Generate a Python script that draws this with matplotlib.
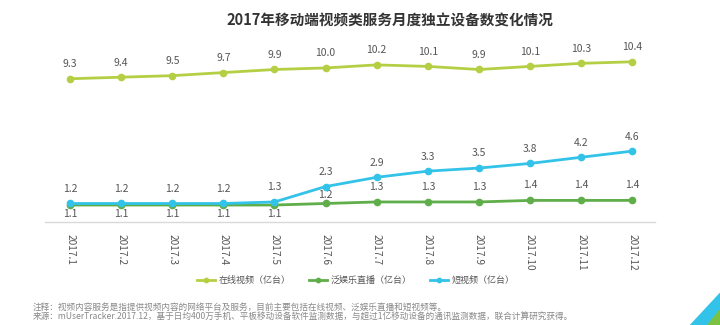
import matplotlib
matplotlib.use("Agg")
import matplotlib.pyplot as plt
from matplotlib.patches import Polygon

plt.rcParams['font.family'] = ['Noto Sans CJK SC', 'DejaVu Sans']

months = ["2017.1", "2017.2", "2017.3", "2017.4", "2017.5", "2017.6",
          "2017.7", "2017.8", "2017.9", "2017.10", "2017.11", "2017.12"]
online_video = [9.3, 9.4, 9.5, 9.7, 9.9, 10.0, 10.2, 10.1, 9.9, 10.1, 10.3, 10.4]
live_stream = [1.1, 1.1, 1.1, 1.1, 1.1, 1.2, 1.3, 1.3, 1.3, 1.4, 1.4, 1.4]
short_video = [1.2, 1.2, 1.2, 1.2, 1.3, 2.3, 2.9, 3.3, 3.5, 3.8, 4.2, 4.6]
series_names = ["在线视频（亿台）", "泛娱乐直播（亿台）", "短视频（亿台）"]
title = "2017年移动端视频类服务月度独立设备数变化情况"
notes = ["注释：视频内容服务是指提供视频内容的网络平台及服务，目前主要包括在线视频、泛娱乐直播和短视频等。",
         "来源：mUserTracker.2017.12，基于日均400万手机、平板移动设备软件监测数据，与超过1亿移动设备的通讯监测数据，联合计算研究获得。"]

c_online = "#b5cf45"
c_live = "#5fae4a"
c_short = "#33c3e8"
txt = "#555555"

fig = plt.figure(figsize=(7.2, 3.25), dpi=100)
ax = fig.add_axes([0.0625, 0.317, 0.8475, 0.545])
x = list(range(len(months)))

ax.plot(x, online_video, color=c_online, lw=2, marker='o', ms=4.5, label=series_names[0], zorder=3)
ax.plot(x, live_stream, color=c_live, lw=2, marker='o', ms=4.5, label=series_names[1], zorder=3)
ax.plot(x, short_video, color=c_short, lw=2, marker='o', ms=4.5, label=series_names[2], zorder=4)

fs = 7.5
for i in x:
    ax.annotate(f"{online_video[i]:.1f}", (i, online_video[i]), xytext=(0, 10.5),
                textcoords='offset points', ha='center', va='center', fontsize=fs, color=txt)
    ax.annotate(f"{short_video[i]:.1f}", (i, short_video[i]), xytext=(0, 10.5),
                textcoords='offset points', ha='center', va='center', fontsize=fs, color=txt)
    gap = short_video[i] - live_stream[i]
    if gap < 0.5:
        off = -6.5
    elif gap < 1.5:
        off = 6
    else:
        off = 11
    ax.annotate(f"{live_stream[i]:.1f}", (i, live_stream[i]), xytext=(0, off),
                textcoords='offset points', ha='center', va='center', fontsize=fs, color=txt)

ax.set_xlim(-0.49, 11.45)
ax.set_ylim(0, 11.5)
ax.set_yticks([])
for s in ['top', 'right', 'left']:
    ax.spines[s].set_visible(False)
ax.spines['bottom'].set_color('#d9d9d9')
ax.spines['bottom'].set_linewidth(1)
ax.set_xticks(x)
ax.set_xticklabels(months, rotation=-90, fontsize=7.3, color=txt, va='top')
ax.tick_params(axis='x', length=0, pad=9)

leg = fig.legend(loc='center', bbox_to_anchor=(0.494, 0.138), ncol=3, frameon=False,
                 fontsize=6.5, handlelength=2.0, columnspacing=2.0, handletextpad=0.4,
                 markerscale=0.7)
for t in leg.get_texts():
    t.set_color(txt)

fig.text(0.542, 0.937, title, ha='center', va='center', fontsize=10.5,
         fontweight='bold', color='#333333')

fig.text(0.046, 0.055, notes[0], ha='left', va='center', fontsize=6.2, color='#888888')
fig.text(0.046, 0.027, notes[1], ha='left', va='center', fontsize=6.2, color='#888888')

fig.patches.append(Polygon([(1.0, 0.0), (0.958, 0.0), (1.0, 0.1)], closed=True,
                           transform=fig.transFigure, facecolor=c_short, edgecolor='none'))
fig.patches.append(Polygon([(1.0, 0.0), (0.982, 0.0), (1.0, 0.05)], closed=True,
                           transform=fig.transFigure, facecolor='#7cc242', edgecolor='none'))

fig.savefig("out.png", dpi=100, facecolor='white')
